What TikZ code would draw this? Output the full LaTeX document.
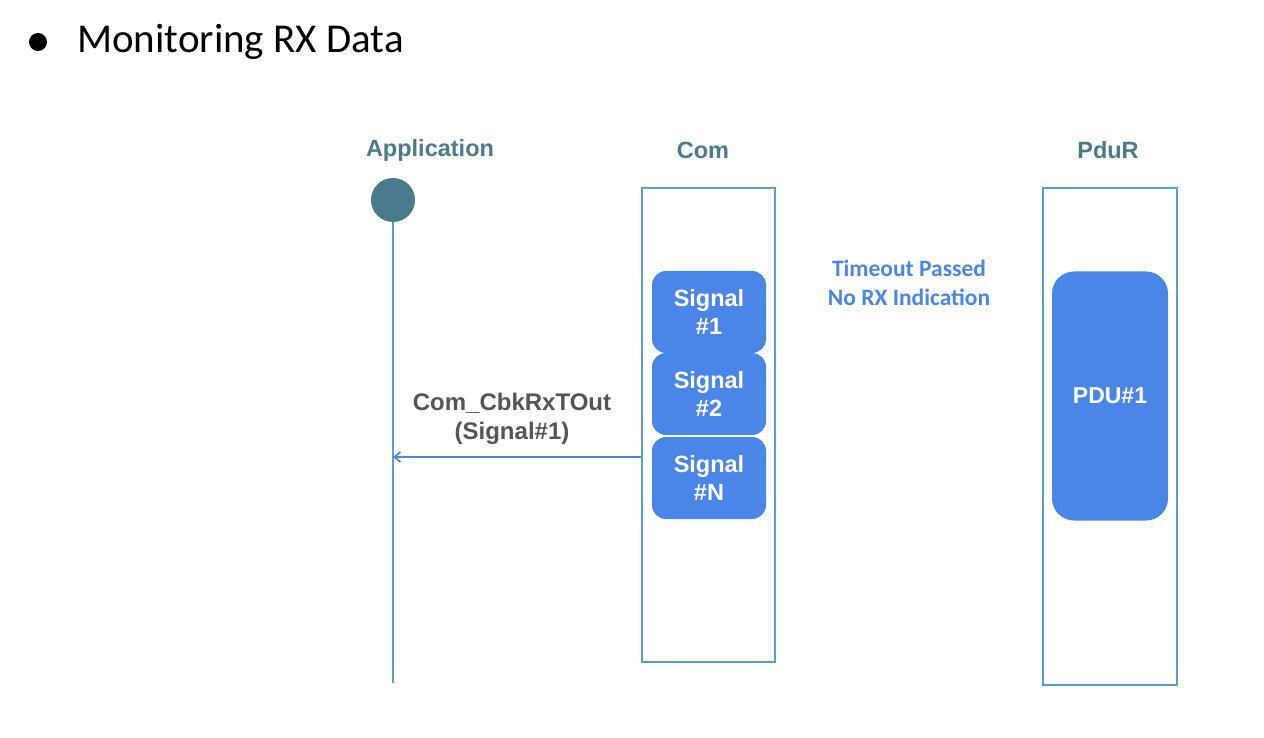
\documentclass[tikz,border=0pt]{standalone}
\usepackage{fontspec}
\setmainfont{Liberation Sans}
\newfontfamily\calib{Carlito}
\usetikzlibrary{arrows.meta,positioning}
\definecolor{headcol}{HTML}{4A7A8C}
\definecolor{linecol}{HTML}{5B9EC9}
\definecolor{sigcol}{HTML}{4A86E8}
\definecolor{txtgray}{HTML}{555555}

\begin{document}
\begin{tikzpicture}[x=1pt,y=-1pt,
		header/.style={text=headcol,font=\fontsize{23.5}{26}\selectfont\bfseries},
		lane/.style={draw=linecol,line width=2.8pt,inner sep=0pt},
		sigbox/.style={fill=sigcol,text=white,rounded corners=14pt,inner sep=0pt,
			minimum width=114pt,minimum height=82pt,align=center,
			font=\fontsize{23.5}{28}\selectfont\bfseries},
		msg/.style={draw=sigcol,line width=1.8pt,-{Straight Barb[length=6pt,width=10pt]}}]
	\useasboundingbox (0,0) rectangle (1264,738);
	% title
	\fill (38,42) circle (9);
	\node[anchor=west,inner sep=0pt] (title) at (77,42) {\calib\fontsize{41}{46}\selectfont Monitoring RX Data};
	% headers
	\node[header] (happ) at (430,150) {Application};
	\node[header] (hcom) at (703,150) {Com};
	\node[header] (hpdur) at (1108,150) {PduR};
	% application lifeline
	\node[circle,fill=headcol,minimum size=44pt,inner sep=0pt] (app) at (393,200) {};
	\coordinate (append) at (393,683);
	\draw[linecol,line width=2pt] (app.south) -- (append);
	% Com
	\node[lane,minimum width=133pt,minimum height=474pt] (com) at (708.5,425) {};
	\node[sigbox] (sig1) at (709,312) {Signal\\\#1};
	\node[sigbox] (sig2) at (709,394) {Signal\\\#2};
	\node[sigbox] (sigN) at (709,478) {Signal\\\#N};
	% PduR
	\node[lane,minimum width=134pt,minimum height=497pt] (pdur) at (1110,436.5) {};
	\node[sigbox,rounded corners=22pt,minimum width=116pt,minimum height=249pt,
		font=\fontsize{23}{28}\selectfont\bfseries] (pdu1) at (1110,396) {PDU\#1};
	\node[text=sigcol,align=center,font=\calib\fontsize{23.5}{29}\selectfont\bfseries] (tout) at (909,283) {Timeout Passed\\No RX Indication};
	% callback
	\coordinate (callpt) at (393,457);
	\draw[msg] (com.west |- callpt) -- (callpt);
	\node[text=txtgray,align=center,font=\fontsize{24}{29}\selectfont\bfseries] (cblabel) at (512,419) {Com\_CbkRxTOut\\(Signal\#1)};
\end{tikzpicture}
\end{document}
